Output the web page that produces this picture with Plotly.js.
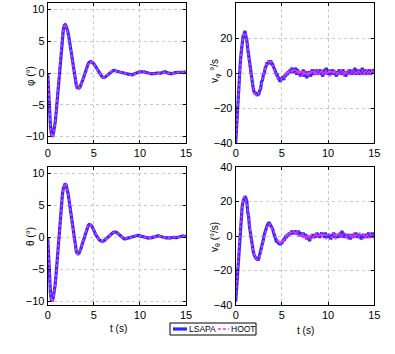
<!DOCTYPE html>
<html><head><meta charset="utf-8">
<script src="https://cdn.plot.ly/plotly-3.0.1.min.js"></script>
<style>html,body{margin:0;padding:0;background:#fff}#chart{width:395px;height:354px}</style>
</head><body><div id="chart"></div>
<script>
// time grid 0..15 s, step 0.1 s
const tSec = Array.from({length:151},(_,i)=>+(i*0.1).toFixed(1));

const phiLSAPA = [0,-3.2,-6.1,-8.3,-9.6,-10.0,-9.6,-9.0,-7.9,-6.5,-4.9,-3.0,-1.0,1.0,2.9,4.5,5.9,6.9,7.5,7.6,7.4,
7.0,6.4,5.6,4.6,3.6,2.5,1.4,0.4,-0.6,-1.3,
-1.9,-2.3,-2.4,-2.35,-2.2,-1.9,-1.55,-1.1,-0.67,-0.2,
0.3,0.75,1.14,1.45,1.67,1.78,1.8,1.72,1.62,1.45,
1.25,1.0,0.75,0.48,0.22,-0.02,-0.26,-0.45,-0.59,-0.68,
-0.7,-0.66,-0.55,-0.42,-0.28,-0.12,0.02,0.12,0.25,0.33,
0.38,0.42,0.4,0.33,0.28,0.25,0.2,0.15,0.12,0.1,
0.05,0.08,0.02,0.05,-0.05,-0.1,-0.18,-0.22,-0.3,-0.35,
-0.36,-0.3,-0.2,-0.12,-0.05,0.02,0.08,0.12,0.15,0.18,
0.2,0.22,0.2,0.15,0.18,0.12,0.08,0.02,-0.05,-0.1,
-0.12,-0.1,-0.15,-0.1,-0.12,-0.05,-0.08,0.0,0.02,-0.03,
0.0,-0.05,0.02,0.05,0.1,0.15,0.2,0.15,0.05,0.0,
-0.05,-0.02,-0.1,-0.12,-0.08,-0.1,-0.02,0.05,0.08,0.12,
0.05,0.1,0.08,0.12,0.1,0.05,0.12,0.15,0.1,0.15];

const phiHOOT = [0,-3.1,-6.0,-8.2,-9.6,-10.1,-9.7,-9.0,-7.9,-6.4,-4.8,-2.9,-0.9,1.1,3.0,4.6,5.9,6.9,7.5,7.7,7.4,
7.0,6.3,5.5,4.6,3.5,2.4,1.3,0.3,-0.6,-1.4,
-1.9,-2.3,-2.45,-2.35,-2.15,-1.9,-1.5,-1.1,-0.65,-0.2,
0.32,0.78,1.15,1.48,1.68,1.8,1.82,1.74,1.6,1.44,
1.22,1.0,0.72,0.46,0.2,-0.05,-0.28,-0.47,-0.6,-0.7,
-0.72,-0.65,-0.55,-0.4,-0.26,-0.1,0.04,0.14,0.26,0.35,
0.4,0.44,0.38,0.35,0.26,0.22,0.18,0.17,0.1,0.08,
0.07,0.06,0.0,0.04,-0.08,-0.1,-0.2,-0.25,-0.28,-0.33,
-0.38,-0.28,-0.22,-0.1,-0.06,0.04,0.1,0.14,0.16,0.2,
0.18,0.24,0.2,0.17,0.15,0.14,0.06,0.04,-0.06,-0.12,
-0.1,-0.12,-0.13,-0.12,-0.1,-0.06,-0.1,0.02,0.0,-0.05,
0.02,-0.03,0.05,0.03,0.12,0.14,0.22,0.13,0.07,-0.02,
-0.03,-0.05,-0.12,-0.1,-0.06,-0.12,-0.04,0.03,0.1,0.1,
0.07,0.12,0.06,0.1,0.12,0.07,0.1,0.16,0.12,0.14];

const vphiLSAPA = [-40,-29,-19,-11,-2,6,12,18,21,22,24,21,19,14,10,6,0,-3,-7,-9,-11,
-12,-11,-13,-12,-12,-10,-9,-5,-4,-1,
0,3,4,6,5,7,6,7,5,5,
3,2,1,-1,-1,-3,-3,-5,-3,-4,
-2,-4,-1,-2,0,-1,1,0,2,1,
3,0,2,1,3,-1,2,0,1,-2,
1,-1,2,-2,0,1,-3,0,-1,1,
-2,0,2,-1,1,0,2,-1,1,0,
2,-1,1,-2,0,2,0,3,-1,1,
2,-1,1,0,2,-1,1,0,-2,1,
0,2,-1,1,-1,2,0,1,-2,0,
1,-1,2,0,1,-1,2,0,3,-1,
1,0,2,-1,1,0,3,-1,1,0,
2,-1,1,0,2,-1,1,0,2,1];

const vphiHOOT = [-39,-30,-21,-10,-3,5,13,17,20,23,22,22,18,15,9,5,1,-4,-6,-9,-12,
-11,-13,-12,-12,-11,-10,-8,-6,-3,-2,
1,2,5,5,7,6,7,6,6,4,
4,1,1,-2,-2,-3,-4,-4,-4,-3,
-3,-2,-3,0,-1,1,0,1,1,2,
0,2,1,2,0,1,2,-1,1,0,
1,-2,1,-1,1,-1,0,-2,1,0,
-1,1,0,1,-1,2,-1,0,2,-1,
1,0,2,-1,1,0,2,-1,1,0,
2,-2,1,0,1,-1,2,0,-1,1,
0,1,-1,2,0,1,-2,1,0,1,
-1,2,0,-1,1,0,2,-1,1,0,
1,-1,2,0,1,-1,1,2,-1,1,
0,2,-1,1,0,-1,2,0,1,0];

const thetaLSAPA = [0,-3.4,-6.5,-8.7,-9.8,-10.0,-9.5,-8.7,-7.5,-6.0,-4.2,-2.2,-0.1,2.0,3.9,5.5,6.8,7.7,8.2,8.4,8.2,
7.7,6.9,6.0,4.9,3.7,2.5,1.3,0.2,-0.8,-1.6,
-2.2,-2.5,-2.6,-2.5,-2.2,-1.8,-1.3,-0.8,-0.3,0.3,
0.8,1.25,1.6,1.85,2.0,2.0,1.9,1.7,1.45,1.15,
0.85,0.5,0.2,-0.05,-0.25,-0.42,-0.52,-0.6,-0.62,-0.6,
-0.55,-0.45,-0.3,-0.15,0.0,0.15,0.3,0.45,0.58,0.68,
0.75,0.8,0.82,0.8,0.72,0.6,0.45,0.3,0.15,0.0,
-0.1,-0.2,-0.25,-0.25,-0.2,-0.15,-0.1,-0.05,0.0,-0.05,
0.05,0.1,0.15,0.2,0.25,0.3,0.28,0.3,0.25,0.2,
0.22,0.15,0.1,0.05,0.0,-0.05,-0.1,-0.15,-0.12,-0.1,
-0.15,-0.1,-0.05,0.0,0.05,0.1,0.15,0.2,0.22,0.25,
0.2,0.15,0.1,0.05,0.1,0.0,-0.05,-0.1,-0.05,-0.1,
-0.15,-0.1,-0.12,-0.05,0.0,0.05,0.0,-0.05,-0.1,-0.05,
0.0,0.05,0.1,0.15,0.1,0.15,0.2,0.15,0.1,0.15];

const thetaHOOT = [0,-3.3,-6.4,-8.6,-9.9,-10.1,-9.6,-8.8,-7.6,-6.1,-4.3,-2.3,-0.2,1.9,3.8,5.5,6.8,7.7,8.3,8.45,8.3,
7.7,6.9,6.0,4.9,3.7,2.5,1.3,0.2,-0.8,-1.6,
-2.2,-2.5,-2.65,-2.5,-2.2,-1.8,-1.3,-0.8,-0.3,0.3,
0.8,1.25,1.6,1.85,2.05,2.0,1.9,1.7,1.45,1.15,
0.85,0.5,0.2,-0.05,-0.25,-0.42,-0.52,-0.62,-0.64,-0.6,
-0.55,-0.45,-0.3,-0.15,0.0,0.15,0.3,0.45,0.6,0.7,
0.77,0.82,0.82,0.8,0.72,0.6,0.45,0.3,0.15,0.0,
-0.1,-0.2,-0.27,-0.25,-0.2,-0.15,-0.08,-0.05,0.02,-0.05,
0.05,0.12,0.15,0.2,0.27,0.3,0.28,0.32,0.25,0.2,
0.22,0.15,0.1,0.05,0.0,-0.07,-0.1,-0.15,-0.12,-0.1,
-0.15,-0.1,-0.05,0.0,0.05,0.12,0.15,0.2,0.2,0.25,
0.2,0.15,0.1,0.05,0.08,0.0,-0.05,-0.1,-0.05,-0.1,
-0.15,-0.1,-0.12,-0.05,0.0,0.05,0.0,-0.05,-0.1,-0.05,
0.0,0.05,0.1,0.15,0.1,0.15,0.2,0.15,0.1,0.15];

const vthetaLSAPA = [-38,-30,-20,-10,-2,6,12,17,20,22,23,22,20,14,11,5,1,-3,-6,-9,-11,
-12,-13,-13,-14,-13,-11,-9,-7,-4,-2,
1,3,5,6,7,8,7,6,5,4,
2,0,-1,-3,-3,-4,-4,-5,-4,-4,
-3,-2,-2,0,-1,1,0,2,1,2,
3,1,3,2,3,1,2,3,0,2,
1,0,2,-1,1,0,-2,0,-1,-3,
0,-1,1,-1,0,1,-1,2,0,1,
-1,1,2,0,1,-1,2,0,1,-1,
1,0,-2,1,0,2,-1,1,0,-1,
1,0,2,-1,3,0,1,-1,1,0,
-1,1,0,-2,1,0,-1,1,0,2,
-1,1,0,-1,1,-2,0,1,-1,0,
1,-1,0,2,-1,1,0,2,-1,0];

const vthetaHOOT = [-36,-29,-21,-11,-3,5,11,16,21,23,22,21,19,15,10,6,0,-2,-7,-8,-11,
-13,-12,-14,-13,-13,-12,-10,-8,-5,-3,
0,2,4,6,7,7,7,6,5,3,
3,1,-1,-2,-2,-4,-3,-5,-3,-4,
-2,-3,-1,-1,1,0,2,1,3,2,
2,2,3,1,2,1,3,0,1,1,
0,2,-1,1,-1,0,-2,1,-1,0,
-2,1,0,-1,1,0,2,-1,1,0,
1,0,2,-1,1,0,1,-2,1,0,
0,1,-1,-1,2,0,1,-2,1,0,
1,0,2,-1,1,0,1,2,-1,1,
-2,0,1,-1,0,1,-1,2,0,-1,
1,0,-1,2,0,1,-2,0,1,-1,
1,0,1,-1,2,0,1,-1,1,0];

const seriesNames = ['LSAPA','HOOT'];
const xTicks = [0,5,10,15];
const posTicks = [-10,-5,0,5,10];
const velTicks = [-40,-20,0,20,40];

const BLUE = '#2a2aff', MAG = '#ee33ee';
const HOOT_DASH = '3px,2px';
function pair(a, b, xa, ya) {
  return [
    {x: tSec, y: a, xaxis: xa, yaxis: ya, type: 'scatter', mode: 'lines', name: seriesNames[0],
     line: {color: BLUE, width: 3.2}, showlegend: false},
    {x: tSec, y: b, xaxis: xa, yaxis: ya, type: 'scatter', mode: 'lines', name: seriesNames[1],
     line: {color: MAG, width: 1.6, dash: HOOT_DASH}, showlegend: false}
  ];
}
const data = [
  ...pair(phiLSAPA, phiHOOT, 'x', 'y'),
  ...pair(vphiLSAPA, vphiHOOT, 'x2', 'y2'),
  ...pair(thetaLSAPA, thetaHOOT, 'x3', 'y3'),
  ...pair(vthetaLSAPA, vthetaHOOT, 'x4', 'y4')
];

const FONT = 'Liberation Sans Narrow, Arial Narrow, Liberation Sans, Arial, sans-serif';
function ax(extra) {
  return Object.assign({
    showline: true, mirror: 'ticks', linecolor: '#000', linewidth: 1,
    ticks: 'inside', ticklen: 3, tickcolor: '#000',
    showgrid: true, gridcolor: '#c8c8c8', griddash: 'dot', gridwidth: 1,
    zeroline: false, tickfont: {family: FONT, size: 11, color: '#000'}
  }, extra);
}
const W = 395, H = 354;
const px = v => v / W, py = v => 1 - v / H;
const L1 = [px(47.7), px(186)], L2 = [px(235.7), px(374.3)];
const T1 = [py(143), py(3)], T2 = [py(305), py(167)];

function lab(text, x, y, angle, size) {
  return {text: text, x: px(x), y: py(y), xref: 'paper', yref: 'paper', xanchor: 'center', yanchor: 'middle',
          showarrow: false, textangle: angle || 0, borderpad: 0,
          font: {family: FONT, size: size || 10, color: '#000'}};
}
// legend box (drawn as shapes + text)
const LG = {x0: 170, x1: 256, y0: 323, y1: 335};
const lgMid = (LG.y0 + LG.y1) / 2;
const shapes = [
  {type: 'rect', xref: 'paper', yref: 'paper', x0: px(LG.x0), x1: px(LG.x1), y0: py(LG.y1), y1: py(LG.y0),
   line: {color: '#000', width: 1}, fillcolor: '#fff', layer: 'below'},
  {type: 'line', xref: 'paper', yref: 'paper', x0: px(173), x1: px(187), y0: py(lgMid), y1: py(lgMid),
   line: {color: BLUE, width: 3.2}},
  {type: 'line', xref: 'paper', yref: 'paper', x0: px(218), x1: px(229), y0: py(lgMid), y1: py(lgMid),
   line: {color: MAG, width: 1.6, dash: HOOT_DASH}}
];
const legendText = [
  Object.assign(lab(seriesNames[0], 188, lgMid, 0, 8.5), {xanchor: 'left'}),
  Object.assign(lab(seriesNames[1], 230, lgMid, 0, 8.5), {xanchor: 'left'})
];

const layout = {
  width: W, height: H, margin: {l: 0, r: 0, t: 0, b: 0},
  paper_bgcolor: '#fff', plot_bgcolor: '#fff',
  font: {family: FONT, size: 11, color: '#000'},
  xaxis: ax({domain: L1, anchor: 'y', range: [0, 15], tickvals: xTicks}),
  yaxis: ax({domain: T1, anchor: 'x', range: [-11, 11], tickvals: posTicks}),
  xaxis2: ax({domain: L2, anchor: 'y2', range: [0, 15], tickvals: xTicks}),
  yaxis2: ax({domain: T1, anchor: 'x2', range: [-40, 40], tickvals: velTicks}),
  xaxis3: ax({domain: L1, anchor: 'y3', range: [0, 15], tickvals: xTicks}),
  yaxis3: ax({domain: T2, anchor: 'x3', range: [-10.6, 11], tickvals: posTicks}),
  xaxis4: ax({domain: L2, anchor: 'y4', range: [0, 15], tickvals: xTicks}),
  yaxis4: ax({domain: T2, anchor: 'x4', range: [-40, 40], tickvals: velTicks}),
  showlegend: false,
  shapes: shapes,
  annotations: [
    lab('φ (°)', 30, 76, -90),
    lab('v<sub>φ</sub> °/s', 215, 71, -90),
    lab('θ (°)', 30, 237, -90),
    lab('v<sub>θ</sub> (°/s)', 215, 237, -90),
    lab('t (s)', 118, 328),
    lab('t (s)', 305, 330),
    ...legendText
  ]
};
Plotly.newPlot('chart', data, layout, {displayModeBar: false, staticPlot: true});
</script></body></html>
